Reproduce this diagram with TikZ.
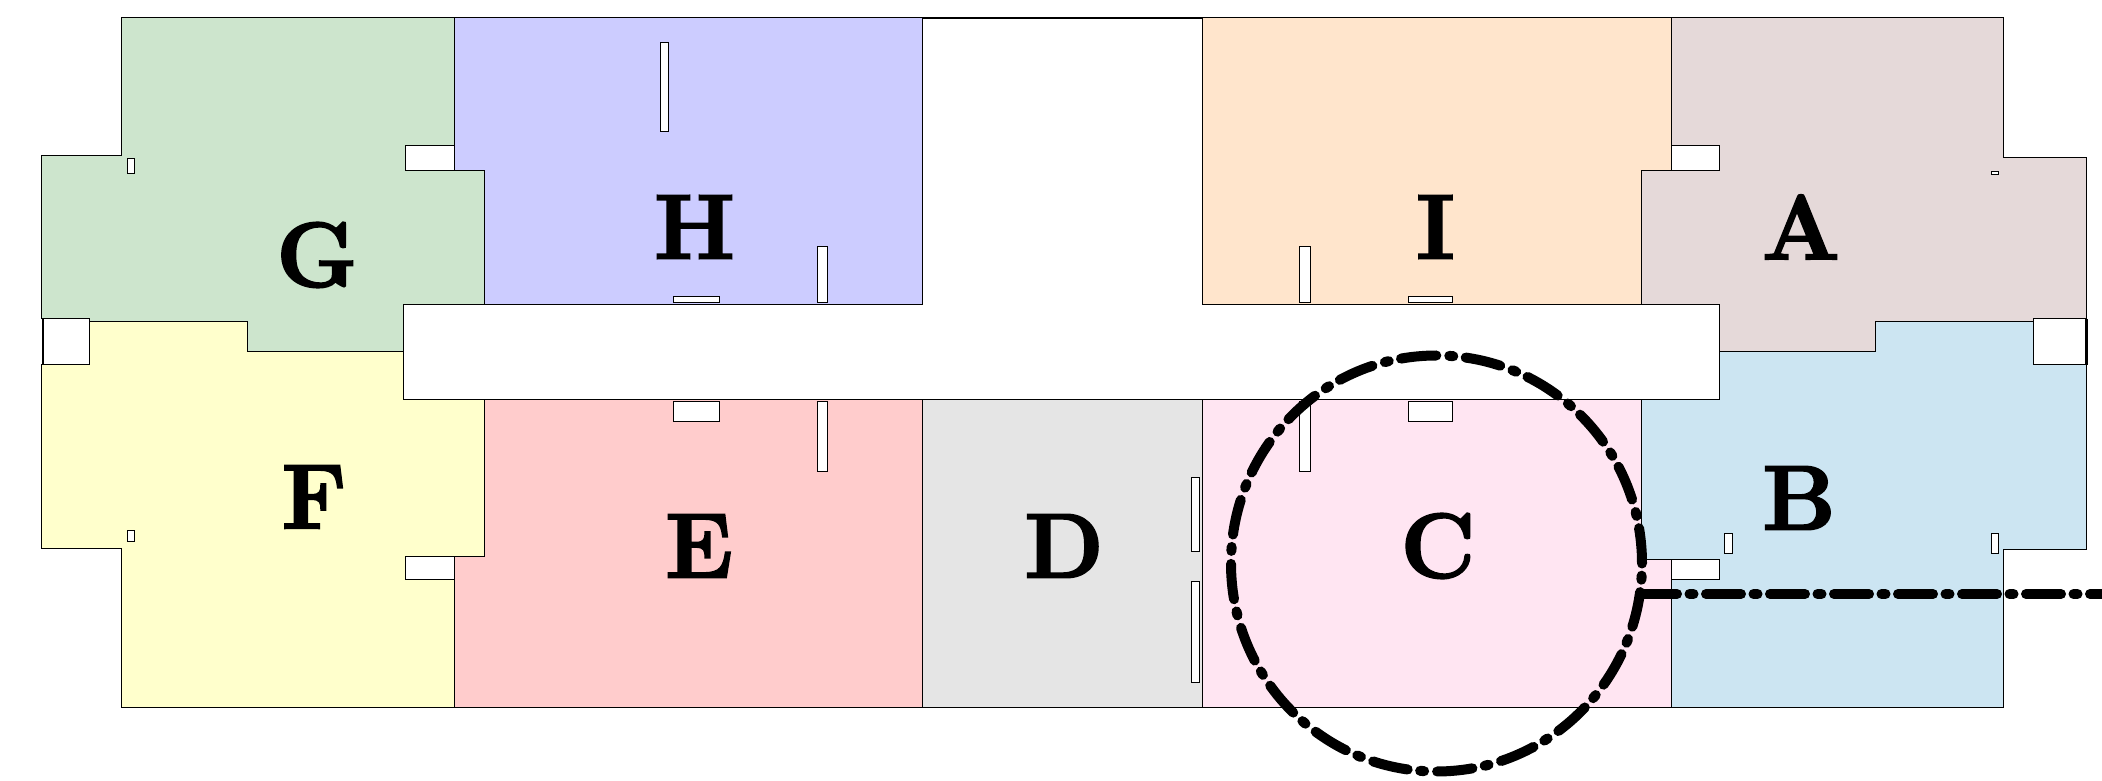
\documentclass[tikz,border=0pt]{standalone}
\usepackage{fontspec}
\newfontfamily\labelfont[FakeBold=2.5]{Latin Modern Roman}
\usetikzlibrary{positioning}

\definecolor{roomA}{HTML}{E5D9D9}
\definecolor{roomB}{HTML}{CCE5F2}
\definecolor{roomC}{HTML}{FFE5F2}
\definecolor{roomD}{HTML}{E5E5E5}
\definecolor{roomE}{HTML}{FFCCCC}
\definecolor{roomF}{HTML}{FFFFCC}
\definecolor{roomG}{HTML}{CDE5CD}
\definecolor{roomH}{HTML}{CCCCFF}
\definecolor{roomI}{HTML}{FFE5CC}

\begin{document}
\begin{tikzpicture}[
  x=0.2mm, y=-0.2mm,
  room/.style = {draw=black,line width=0.2mm,line join=miter},
  win/.style = {draw=black,fill=white,line width=0.2mm},
  wall/.style = {draw=black,line width=0.55mm},
  callout/.style = {draw=black,line width=2mm,line cap=round},
  roomname/.style = {inner sep=0pt,font=\labelfont\bfseries\fontsize{52}{52}\selectfont}
]

  \useasboundingbox (0,0) rectangle (2102,781);

  % rooms
  \path[room,fill=roomG] (121.5,18) -- (454,18) -- (454,146) -- (405.5,146) -- (405.5,171) -- (484,171)
    -- (484,305) -- (403,305) -- (403,352) -- (247.5,352) -- (247.5,322) -- (89,322) -- (89,319)
    -- (41,319) -- (41,156) -- (121.5,156) -- cycle;
  \path[room,fill=roomH] (454,18) -- (922,18) -- (922,305) -- (484,305) -- (484,171) -- (454,171) -- cycle;
  \path[room,fill=roomI] (1202,18) -- (1671.5,18) -- (1671.5,171) -- (1641.5,171) -- (1641.5,305) -- (1202,305) -- cycle;
  \path[room,fill=roomA] (1671.5,18) -- (2003.5,18) -- (2003.5,158) -- (2086.5,158) -- (2086.5,319)
    -- (2033.5,319) -- (2033.5,322) -- (1875,322) -- (1875,352) -- (1719,352) -- (1719,305)
    -- (1641.5,305) -- (1641.5,171) -- (1719,171) -- (1719,146) -- (1671.5,146) -- cycle;
  \path[room,fill=roomB] (1641.5,400) -- (1719,400) -- (1719,352) -- (1875,352) -- (1875,322)
    -- (2033.5,322) -- (2033.5,365) -- (2086.5,365) -- (2086.5,549.5) -- (2003.5,549.5) -- (2003.5,708)
    -- (1671.5,708) -- (1671.5,580) -- (1719,580) -- (1719,559.5) -- (1641.5,559.5) -- cycle;
  \path[room,fill=roomC] (1202,400) -- (1641.5,400) -- (1641.5,559.5) -- (1671.5,559.5) -- (1671.5,708) -- (1202,708) -- cycle;
  \path[room,fill=roomD] (922,400) rectangle (1202,708);
  \path[room,fill=roomE] (484,400) -- (922,400) -- (922,708) -- (454,708) -- (454,557) -- (484,557) -- cycle;
  \path[room,fill=roomF] (89,322) -- (247.5,322) -- (247.5,352) -- (403,352) -- (403,400) -- (484,400)
    -- (484,557) -- (405.5,557) -- (405.5,580) -- (454,580) -- (454,708) -- (121.5,708) -- (121.5,549)
    -- (41,549) -- (41,365) -- (89,365) -- cycle;

  % openings
  \path[win] (127,159) rectangle (134.5,174);
  \path[win] (660.5,43) rectangle (668.5,132);
  \path[win] (817,247) rectangle (827,303);
  \path[win] (673,297) rectangle (719,303);
  \path[win] (1299,247) rectangle (1310,303);
  \path[win] (1408,297) rectangle (1452.5,303);
  \path[win] (1991,171.5) rectangle (1998.5,174.5);
  \path[win] (673,402) rectangle (719,421.5);
  \path[win] (817,402) rectangle (827,471.5);
  \path[win] (1408,402) rectangle (1452.5,421.5);
  \path[win] (1299,402) rectangle (1310,472);
  \path[win] (1191,478) rectangle (1199.5,552);
  \path[win] (1191,582) rectangle (1199.5,683);
  \path[win] (127,531) rectangle (134.5,542);
  \path[win] (1724,534) rectangle (1732,554);
  \path[win] (1991,534) rectangle (1998.5,554);
  \path[win] (43,319) rectangle (89,365);
  \path[win] (2033.5,319) rectangle (2086.5,365);

  % heavy walls
  \draw[wall] (922,18) -- (1202,18);
  \draw[wall] (43,319) -- (43,365);
  \draw[wall] (2086.5,319) -- (2086.5,365);

  \node[roomname] (nameA) at (1801,227) {A};
  \node[roomname] (nameB) at (1799,498) {B};
  \node[roomname] (nameC) at (1438,546) {C};
  \node[roomname] (nameD) at (1064,546) {D};
  \node[roomname] (nameE) at (699,546) {E};
  \node[roomname] (nameF) at (314,497) {F};
  \node[roomname] (nameG) at (317,255) {G};
  \node[roomname] (nameH) at (694.5,227) {H};
  \node[roomname] (nameI) at (1435.5,227) {I};

  % callout
  \coordinate (rim) at (1642,594);
  \coordinate (edge) at (2102,594);
  \draw[callout,dash pattern=on 7.1mm off 2.5mm on 0.8mm off 2.6mm] (1436.5,563.5) ++(205.5,0) arc[start angle=0,end angle=-360,x radius=205.5,y radius=208];
  \draw[callout,dash pattern=on 7mm off 2.5mm on 0.8mm off 2.5mm] (rim) -- (edge);

\end{tikzpicture}
\end{document}
